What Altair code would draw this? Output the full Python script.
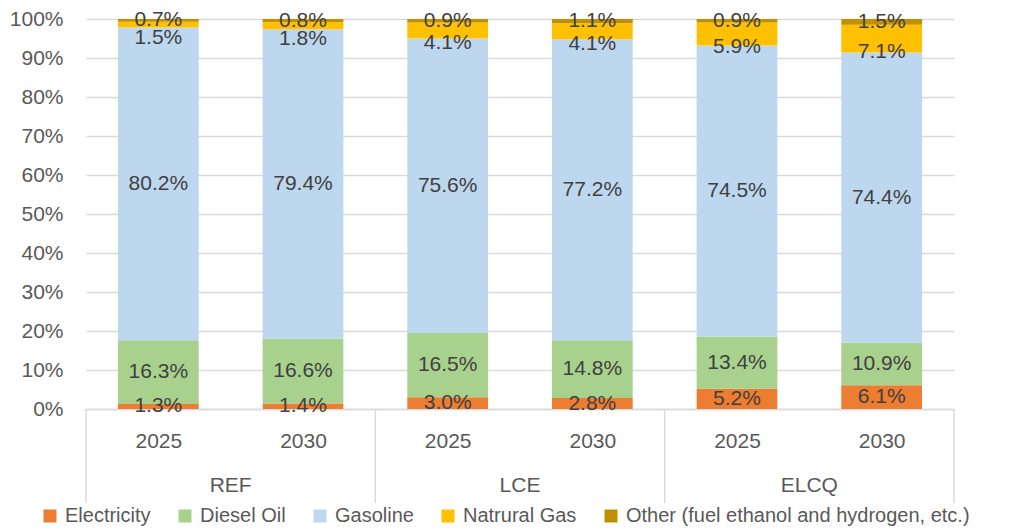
import altair as alt
import pandas as pd

scenarios = ["REF", "REF", "LCE", "LCE", "ELCQ", "ELCQ"]
years = ["2025", "2030", "2025", "2030", "2025", "2030"]
fuels = ["Electricity", "Diesel Oil", "Gasoline", "Natrural Gas",
         "Other (fuel ethanol and hydrogen, etc.)"]
colors = ["#ED7D31", "#A9D18E", "#BDD7EE", "#FFC000", "#BF9000"]

electricity = [1.3, 1.4, 3.0, 2.8, 5.2, 6.1]
diesel_oil = [16.3, 16.6, 16.5, 14.8, 13.4, 10.9]
gasoline = [80.2, 79.4, 75.6, 77.2, 74.5, 74.4]
natural_gas = [1.5, 1.8, 4.1, 4.1, 5.9, 7.1]
other = [0.7, 0.8, 0.9, 1.1, 0.9, 1.5]

group_names = ["REF", "LCE", "ELCQ"]
group_centers = [0.5, 2.5, 4.5]
group_bounds = [-0.5, 1.5, 3.5, 5.5]

series = [electricity, diesel_oil, gasoline, natural_gas, other]
rows = []
for i in range(len(years)):
    for k, f in enumerate(fuels):
        rows.append({"idx": i, "scenario": scenarios[i], "year": years[i],
                     "fuel": f, "order": k, "value": series[k][i]})
df = pd.DataFrame(rows)

FONT = "Liberation Sans"
GRID = "#d9d9d9"
HALF = 0.279

xscale = alt.Scale(domain=[-0.5, 5.5], nice=False, zero=False)
yscale = alt.Scale(domain=[0, 1], nice=False)
year_expr = "[" + ",".join("'%s'" % y for y in years) + "][datum.value]"

xaxis = alt.Axis(values=list(range(6)), labelExpr=year_expr, title=None,
                 grid=False, ticks=False, tickSize=0, domain=True,
                 domainColor=GRID, domainWidth=1.5, labelPadding=21,
                 labelFontSize=21, labelColor="#595959", labelFont=FONT,
                 labelOverlap=False)
yaxis = alt.Axis(values=[i / 10 for i in range(11)], format=".0%", title=None,
                 grid=True, gridColor=GRID, gridWidth=1.5, domain=False,
                 ticks=False, tickSize=0, labelPadding=23, labelOverlap=False,
                 labelFontSize=21, labelColor="#595959", labelFont=FONT)

base = alt.Chart(df).transform_stack(
    stack="value", groupby=["idx"], sort=[alt.SortField("order")],
    offset="normalize", as_=["y0", "y1"]
).transform_calculate(
    x0=f"datum.idx - {HALF}", x1=f"datum.idx + {HALF}",
    ym="(datum.y0 + datum.y1) / 2",
    label="format(datum.value, '.1f') + '%'"
)

bars = base.mark_bar(strokeWidth=0).encode(
    x=alt.X("x0:Q", scale=xscale, axis=xaxis),
    x2="x1:Q",
    y=alt.Y("y0:Q", scale=yscale, axis=yaxis),
    y2="y1:Q",
    color=alt.Color("fuel:N", scale=alt.Scale(domain=fuels, range=colors),
                    legend=alt.Legend(title=None, orient="none", legendX=-46, legendY=487,
                                      direction="horizontal", columns=5,
                                      symbolType="square", symbolSize=169,
                                      symbolStrokeWidth=0, labelOffset=5,
                                      labelFontSize=20, labelColor="#595959",
                                      labelFont=FONT, labelLimit=600,
                                      columnPadding=24, gridAlign="each")),
    order=alt.Order("order:Q"),
)

label_enc = dict(
    x=alt.X("idx:Q", scale=xscale, axis=xaxis),
    y=alt.Y("ym:Q", scale=yscale, axis=yaxis),
    text="label:N",
)

labels = base.transform_filter(f"datum.fuel != '{fuels[3]}'").mark_text(
    font=FONT, fontSize=21, color="#404040", baseline="middle").encode(**label_enc)

labels_ng = base.transform_filter(f"datum.fuel == '{fuels[3]}'").mark_text(
    font=FONT, fontSize=21, color="#404040", baseline="middle", dy=13).encode(**label_enc)

sep_df = pd.DataFrame({"b": group_bounds})
seps = alt.Chart(sep_df).mark_rule(color=GRID, strokeWidth=1.5).encode(
    x=alt.X("b:Q", scale=xscale, axis=xaxis),
    y=alt.value(390),
    y2=alt.value(484),
)

grp_df = pd.DataFrame({"pos": group_centers, "name": group_names})
grp = alt.Chart(grp_df).mark_text(font=FONT, fontSize=21, color="#595959",
                                  baseline="middle").encode(
    x=alt.X("pos:Q", scale=xscale, axis=xaxis),
    y=alt.value(467),
    text="name:N",
)

chart = alt.layer(bars, labels, labels_ng, seps, grp).properties(
    width=868, height=390,
    padding={"left": 78, "top": 11, "right": 62, "bottom": 120},
    autosize="none",
).configure_view(stroke=None)

chart.save("out.html", embed_options={"renderer": "svg", "actions": False})
